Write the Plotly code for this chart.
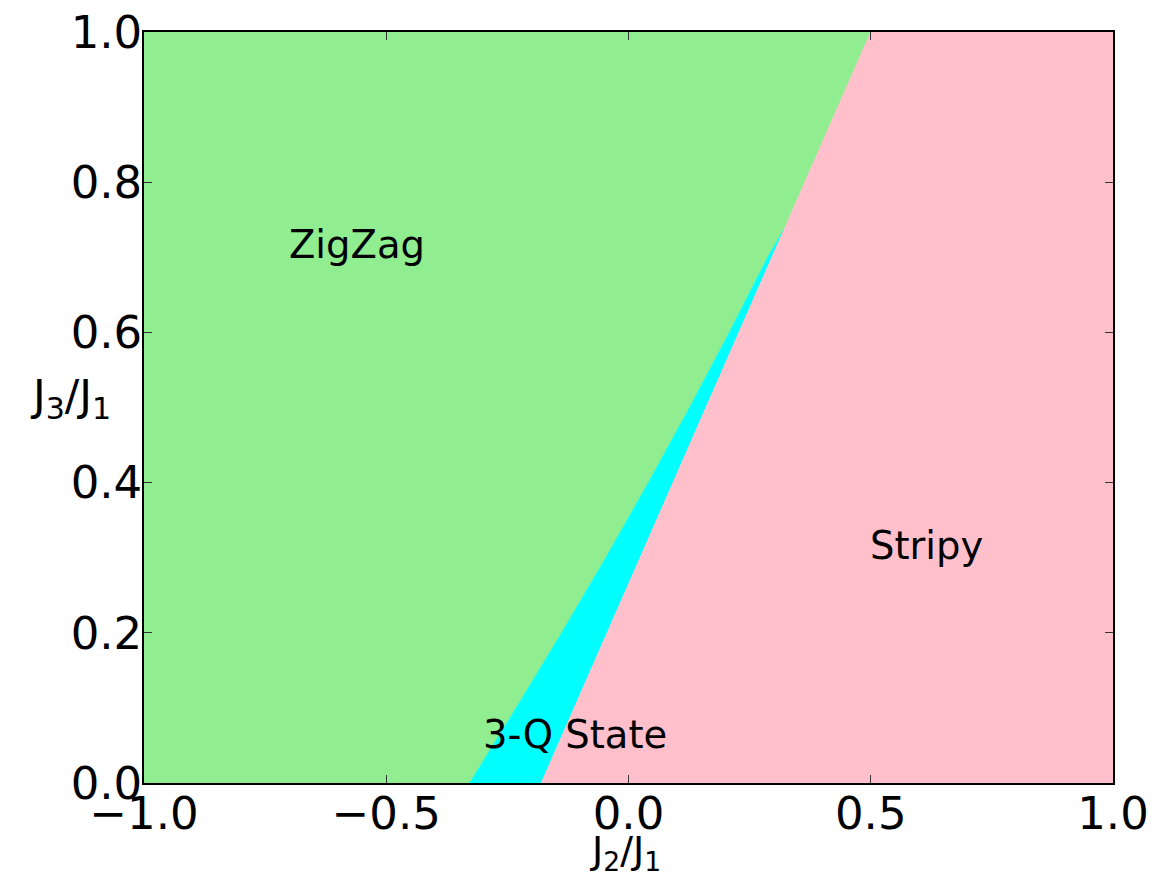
import plotly.graph_objects as go

# Phase boundary: ZigZag / 3-Q State
zz_q_y = [0.0, 0.1, 0.2, 0.3, 0.4, 0.5, 0.6, 0.7, 0.74]
zz_q_x = [-0.328, -0.232, -0.138, -0.047, 0.041, 0.126, 0.208, 0.287, 0.323]

# Phase boundary: Stripy (straight line)
stripy_y = [0.0, 1.0]
stripy_x = [-0.18, 0.50]

x_ticks = [-1.0, -0.5, 0.0, 0.5, 1.0]
x_tick_labels = ["\u22121.0", "\u22120.5", "0.0", "0.5", "1.0"]
y_ticks = [0.0, 0.2, 0.4, 0.6, 0.8, 1.0]
y_tick_labels = ["0.0", "0.2", "0.4", "0.6", "0.8", "1.0"]

phase_labels = ["ZigZag", "Stripy", "3-Q State"]
label_x = [-0.705, 0.495, -0.305]
label_y = [0.717, 0.316, 0.064]

colors = {"ZigZag": "#90EE90", "3-Q State": "#00FFFF", "Stripy": "#FFC0CB"}

# ZigZag polygon
zz_px = [-1.0] + zz_q_x + [stripy_x[1], -1.0, -1.0]
zz_py = [0.0] + zz_q_y + [stripy_y[1], 1.0, 0.0]

# 3-Q polygon
q_px = zz_q_x + [stripy_x[0], zz_q_x[0]]
q_py = zz_q_y + [stripy_y[0], zz_q_y[0]]

# Stripy polygon
s_px = [stripy_x[0], stripy_x[1], 1.0, 1.0, stripy_x[0]]
s_py = [stripy_y[0], stripy_y[1], 1.0, 0.0, stripy_y[0]]

fig = go.Figure()
for name, px, py, lw in [("ZigZag", zz_px, zz_py, 0.8), ("3-Q State", q_px, q_py, 0.5), ("Stripy", s_px, s_py, 0.8)]:
    fig.add_trace(go.Scatter(x=px, y=py, fill="toself", fillcolor=colors[name],
                             mode="lines", line=dict(width=lw, color=colors[name]),
                             hoverinfo="skip", showlegend=False, name=name, cliponaxis=True))

for t, lx, ly in zip(phase_labels, label_x, label_y):
    fig.add_annotation(x=lx, y=ly, text=t, showarrow=False, xanchor="left", yanchor="middle",
                       font=dict(family="DejaVu Sans", size=38.5, color="black"))

fig.add_annotation(xref="paper", yref="paper", x=0.497, y=-0.093,
                   text="J<sub>2</sub>/J<sub>1</sub>", showarrow=False,
                   xanchor="center", yanchor="middle",
                   font=dict(family="DejaVu Sans", size=38, color="black"))
fig.add_annotation(xref="paper", yref="paper", x=-0.076, y=0.513,
                   text="J<sub>3</sub>/J<sub>1</sub>", showarrow=False,
                   xanchor="center", yanchor="middle",
                   font=dict(family="DejaVu Sans", size=43, color="black"))

axis_common = dict(showgrid=False, zeroline=False, showline=True, linecolor="black", linewidth=1.5,
                   mirror="allticks", ticks="inside", ticklen=8, tickwidth=1, tickcolor="#333333",
                   automargin=False,
                   tickfont=dict(family="DejaVu Sans", size=45, color="black"))

fig.update_xaxes(range=[-1, 1], tickvals=x_ticks, ticktext=x_tick_labels,
                 ticklabelstandoff=-10, **axis_common)
fig.update_yaxes(range=[0, 1], tickvals=y_ticks, ticktext=y_tick_labels,
                 ticklabelstandoff=-9, **axis_common)

fig.update_layout(width=1161, height=879, margin=dict(l=144, r=48, t=32, b=96, autoexpand=False),
                  paper_bgcolor="white", plot_bgcolor="white",
                  font=dict(family="DejaVu Sans"))

fig.write_html("out.html", config={"displayModeBar": False},
               post_script="document.body.style.margin='0';document.body.style.overflow='hidden';")
